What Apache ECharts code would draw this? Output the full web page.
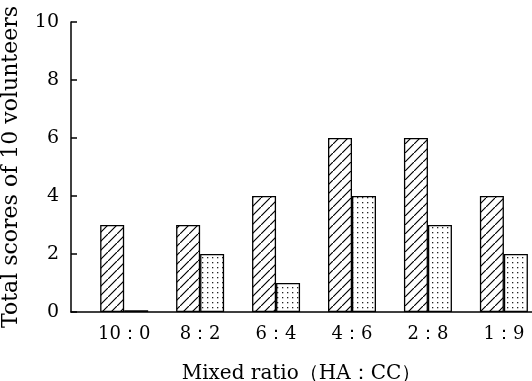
<!DOCTYPE html>
<html><head><meta charset="utf-8">
<script src="https://cdn.jsdelivr.net/npm/echarts@6/dist/echarts.min.js"></script>
<style>html,body{margin:0;padding:0;background:#fff}#c{width:532px;height:381px}</style>
</head><body><div id="c"></div>
<script>
const categories = ['10：0', '8：2', '6：4', '4：6', '2：8', '1：9'];
const haScores = [3, 3, 4, 6, 6, 4];
const ccScores = [0.06, 2, 1, 4, 3, 2];
const yTicks = [0, 2, 4, 6, 8, 10];

function hatch() {
  const s = 9;
  const c = document.createElement('canvas'); c.width = s; c.height = s;
  const g = c.getContext('2d');
  g.fillStyle = '#fff'; g.fillRect(0, 0, s, s);
  g.strokeStyle = '#000'; g.lineWidth = 1.2;
  g.beginPath();
  g.moveTo(-1, s + 1); g.lineTo(s + 1, -1);
  g.moveTo(-s - 1, 1); g.lineTo(1, -s - 1);
  g.moveTo(s - 1, 2 * s + 1); g.lineTo(2 * s + 1, s - 1);
  g.stroke();
  return c;
}
function dots() {
  const c = document.createElement('canvas'); c.width = 5; c.height = 5;
  const g = c.getContext('2d');
  g.fillStyle = '#fff'; g.fillRect(0, 0, 5, 5);
  g.fillStyle = '#222'; g.fillRect(2, 2, 1.3, 1.3);
  return c;
}
const font = 'DejaVu Serif';
const chart = echarts.init(document.getElementById('c'));
chart.setOption({
  animation: false,
  backgroundColor: '#fff',
  grid: { left: 71, right: 0, top: 22, bottom: 69, outerBoundsMode: 'none', containLabel: false },
  xAxis: {
    type: 'value', min: -0.7, max: 5.37,
    name: 'Mixed ratio（HA：CC）', nameLocation: 'middle', nameGap: 52,
    nameTextStyle: { color: '#000', fontFamily: font, fontSize: 20 },
    axisLine: { show: true, onZero: false, lineStyle: { color: '#000', width: 1.5 } },
    axisTick: { show: false }, splitLine: { show: false },
    axisLabel: { customValues: [0, 1, 2, 3, 4, 5], formatter: v => categories[Math.round(v)], color: '#000', fontFamily: font, fontSize: 18, margin: 13 }
  },
  yAxis: {
    type: 'value', min: yTicks[0], max: yTicks[yTicks.length - 1], interval: 2,
    name: 'Total scores of 10 volunteers', nameLocation: 'middle', nameGap: 49, nameRotate: 90,
    nameTextStyle: { color: '#000', fontFamily: font, fontSize: 22 },
    axisLine: { show: true, onZero: false, lineStyle: { color: '#000', width: 1.5 } },
    axisTick: { show: true, inside: true, length: 6, lineStyle: { color: '#000', width: 1.5 } },
    splitLine: { show: false },
    axisLabel: { color: '#000', fontFamily: font, fontSize: 19, margin: 12 }
  },
  series: [
    { type: 'bar', barWidth: 24, barGap: '0%', data: haScores.map((v, i) => [i, v]),
      itemStyle: { color: { image: hatch(), repeat: 'repeat' }, borderColor: '#000', borderWidth: 1.3 } },
    { type: 'bar', barWidth: 24, barGap: '0%', data: ccScores.map((v, i) => [i, v]),
      itemStyle: { color: { image: dots(), repeat: 'repeat' }, borderColor: '#000', borderWidth: 1.3 } }
  ]
});
</script></body></html>
